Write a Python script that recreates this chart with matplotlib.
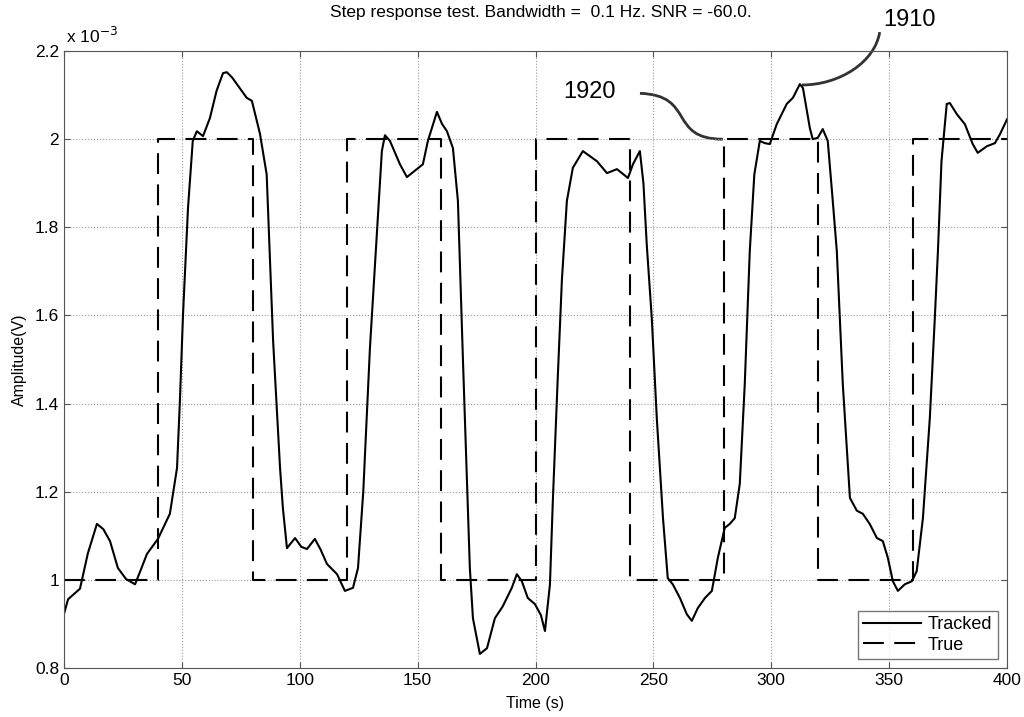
"""Step response test: tracked amplitude vs true square-wave step input."""

import matplotlib
matplotlib.use("Agg")
import matplotlib.pyplot as plt
from matplotlib.path import Path
from matplotlib.patches import PathPatch

plt.rcParams["font.family"] = ["Liberation Sans", "DejaVu Sans"]

# ── Data (amplitude in units of 1e-3 V) ──────────────────────────────────────
t_tracked = [
    0, 1.72, 6.78, 10.11, 13.96, 16.69, 19.52, 22.86, 26.3, 30.14, 32.37,
    35.2, 39.85, 44.91, 47.94, 49.16, 50.47, 52.6, 54.62, 56.34, 58.97, 61.9,
    64.73, 67.46, 69.08, 71.31, 73.33, 77.48, 79.7, 83.14, 85.97, 88.7, 91.64,
    92.85, 94.57, 98.01, 100.64, 103.07, 106.4, 108.73, 111.56, 115.81,
    119.15, 122.59, 124.71, 126.94, 129.77, 132.7, 134.83, 136.14, 138.27,
    142.51, 145.45, 149.69, 152.22, 154.35, 158.19, 160.31, 162.44, 164.97,
    167.09, 169.22, 172.15, 173.46, 176.4, 179.43, 182.77, 186.11, 189.95,
    192.07, 194.2, 196.73, 199.76, 202.29, 204.01, 206.13, 207.35, 209.37,
    211.19, 213.31, 215.84, 220.09, 226.06, 230.31, 234.55, 239.21, 241.33,
    244.27, 245.78, 247.2, 249.32, 251.45, 254.08, 256.1, 258.23, 261.26,
    264.19, 266.31, 268.84, 271.88, 274.81, 277.34, 280.27, 282.4, 284.52,
    286.65, 288.77, 290.89, 292.82, 295.14, 297.27, 299.39, 302.32, 306.57,
    309.2, 312.13, 313.45, 316.38, 317.6, 319.72, 321.84, 323.97, 326.09,
    327.81, 330.34, 333.37, 336.31, 338.84, 341.77, 344.8, 347.33, 349.46,
    351.58, 353.71, 356.64, 359.67, 361.7, 364.33, 367.26, 369.38, 370.7,
    372.21, 374.44, 375.75, 378.69, 382.13, 385.46, 387.59, 391.43, 394.87,
    397.0, 400,
]
y_tracked = [
    0.923, 0.956, 0.98, 1.06, 1.127, 1.115, 1.088, 1.027, 1.002, 0.99, 1.02,
    1.059, 1.093, 1.15, 1.254, 1.406, 1.6, 1.844, 1.996, 2.018, 2.007, 2.048,
    2.11, 2.15, 2.152, 2.14, 2.125, 2.094, 2.087, 2.012, 1.92, 1.542, 1.254,
    1.163, 1.072, 1.095, 1.075, 1.07, 1.093, 1.07, 1.036, 1.013, 0.975, 0.982,
    1.027, 1.2, 1.526, 1.785, 1.973, 2.009, 1.996, 1.943, 1.914, 1.932, 1.943,
    1.996, 2.062, 2.035, 2.018, 1.98, 1.86, 1.5, 1.027, 0.913, 0.832, 0.845,
    0.913, 0.94, 0.982, 1.013, 0.997, 0.959, 0.945, 0.92, 0.884, 0.99, 1.179,
    1.45, 1.68, 1.86, 1.935, 1.973, 1.95, 1.923, 1.932, 1.912, 1.943, 1.973,
    1.9, 1.76, 1.594, 1.367, 1.14, 1.004, 0.99, 0.959, 0.922, 0.907, 0.936,
    0.959, 0.975, 1.05, 1.118, 1.127, 1.14, 1.218, 1.445, 1.746, 1.92, 1.996,
    1.991, 1.989, 2.034, 2.08, 2.094, 2.125, 2.116, 2.025, 2.0, 2.003, 2.023,
    1.996, 1.86, 1.746, 1.445, 1.186, 1.157, 1.15, 1.127, 1.095, 1.088, 1.05,
    0.997, 0.975, 0.99, 0.997, 1.02, 1.14, 1.367, 1.594, 1.746, 1.95, 2.08,
    2.082, 2.057, 2.034, 1.989, 1.969, 1.984, 1.991, 2.011, 2.045,
]

# true step input: level changes every 40 s
t_true = [0, 40, 40, 80, 80, 120, 120, 160, 160, 200, 200, 240, 240, 280,
          280, 320, 320, 360, 360, 400]
y_true = [1, 1, 2, 2, 1, 1, 2, 2, 1, 1, 2, 2, 1, 1, 2, 2, 1, 1, 2, 2]

x_ticks = [0, 50, 100, 150, 200, 250, 300, 350, 400]
y_ticks = [0.8, 1.0, 1.2, 1.4, 1.6, 1.8, 2.0, 2.2]

# ── Plot ─────────────────────────────────────────────────────────────────────
fig = plt.figure(figsize=(10.24, 7.17), dpi=100)
ax = fig.add_axes([0.0625, 0.0683, 0.9209, 0.8605])

ax.plot(t_tracked, y_tracked, color="black", lw=1.5, label="Tracked")
ax.plot(t_true, y_true, color="black", lw=1.5, dashes=(10, 5), label="True")

ax.set_xlim(0, 400)
ax.set_ylim(0.8, 2.2)
ax.set_xticks(x_ticks)
ax.set_yticks(y_ticks)
ax.set_yticklabels([f"{v:g}" for v in y_ticks])
ax.tick_params(direction="in", top=True, right=True, labelsize=12.5,
               length=4, color="#555555")
ax.grid(True, linestyle=":", color="#999999", lw=0.8)
for s in ax.spines.values():
    s.set_color("#555555")

ax.set_xlabel("Time (s)", fontsize=11.5, labelpad=6)
ax.set_ylabel("Amplitude(V)", fontsize=11.5, labelpad=6)
fig.text(0.528, 0.982, "Step response test. Bandwidth =  0.1 Hz. SNR = -60.0.",
         fontsize=12.5, ha="center", va="center")
fig.text(0.064, 0.94, r"x 10$^{-3}$", fontsize=12.5)

leg = ax.legend(loc="lower right", fontsize=13, fancybox=False,
                edgecolor="#555555", handlelength=3.2, borderpad=0.3,
                labelspacing=0.2, handletextpad=0.4)
leg.get_frame().set_linewidth(1.0)

# reference numerals with leader lines
ax.text(358.8, 2.27, "1910", fontsize=17, ha="center", va="center",
        clip_on=False)
ax.text(223, 2.107, "1920", fontsize=17, ha="center", va="center",
        clip_on=False)

lead_1910 = Path([(346, 2.243), (344, 2.175), (329, 2.123), (313, 2.123)],
                 [Path.MOVETO, Path.CURVE4, Path.CURVE4, Path.CURVE4])
lead_1920 = Path([(244.3, 2.104), (268, 2.10), (256, 2.0), (279.5, 2.0)],
                 [Path.MOVETO, Path.CURVE4, Path.CURVE4, Path.CURVE4])
for p in (lead_1910, lead_1920):
    ax.add_patch(PathPatch(p, fill=False, lw=2, color="#333333",
                           clip_on=False))

fig.savefig("out.png", dpi=100)
